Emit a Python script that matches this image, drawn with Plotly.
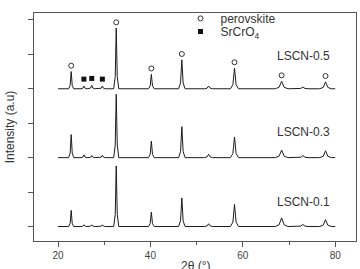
import plotly.graph_objects as go

# Peak positions (2theta, deg) and heights (a.u.)
peak_pos = [22.85, 25.6, 27.3, 29.6, 32.6, 40.2, 46.8, 52.6, 58.2, 68.4, 73.0, 77.9]
peak_hw  = [0.22, 0.25, 0.25, 0.25, 0.22, 0.25, 0.28, 0.35, 0.35, 0.55, 0.45, 0.5]
h_05 = [0.50, 0.08, 0.10, 0.08, 1.76, 0.42, 0.84, 0.08, 0.60, 0.22, 0.05, 0.20]
h_03 = [0.67, 0.08, 0.06, 0.07, 1.84, 0.48, 0.90, 0.10, 0.60, 0.22, 0.06, 0.20]
h_01 = [0.47, 0.05, 0.05, 0.05, 1.76, 0.42, 0.83, 0.08, 0.64, 0.25, 0.06, 0.20]
series_names = ["LSCN-0.5", "LSCN-0.3", "LSCN-0.1"]
offsets = [4, 2, 0]
x_start, x_end = 20.0, 80.0

# marker annotations
perov_pos = [22.85, 32.6, 40.2, 46.8, 58.2, 68.4, 77.9]
srcro4_pos = [25.6, 27.3, 29.6]

def profile(heights, base):
    xs, ys = [x_start], [base]
    for p, w, h in zip(peak_pos, peak_hw, heights):
        xs += [p - 2.5 * w, p - w, p, p + w, p + 2.5 * w]
        ys += [base, base + 0.2 * h, base + h, base + 0.2 * h, base]
    xs.append(x_end); ys.append(base)
    return xs, ys

fig = go.Figure()
for name, hs, off in zip(series_names, [h_05, h_03, h_01], offsets):
    xs, ys = profile(hs, off)
    fig.add_trace(go.Scatter(x=xs, y=ys, mode="lines", line=dict(color="#1c1c1c", width=1),
                             showlegend=False, hoverinfo="skip"))

h05_map = dict(zip(peak_pos, h_05))
fig.add_trace(go.Scatter(x=perov_pos, y=[offsets[0] + h05_map[p] + 0.17 for p in perov_pos],
                         mode="markers", name="perovskite", legend="legend",
                         marker=dict(symbol="circle-open", size=5, color="#333", line=dict(width=1))))
fig.add_trace(go.Scatter(x=srcro4_pos, y=[offsets[0] + h05_map[p] + 0.2 for p in srcro4_pos],
                         mode="markers", name="SrCrO<sub>4</sub>", legend="legend2",
                         marker=dict(symbol="square", size=5, color="#111")))

for name, yv in zip(series_names, [4.94, 2.74, 0.71]):
    fig.add_annotation(x=67.0, y=yv, text=name, showarrow=False, xanchor="left", yanchor="middle",
                       font=dict(size=12, color="#333"))

fig.add_annotation(x=0.5, y=-0.11, xref="paper", yref="paper", text="2θ (°)", showarrow=False,
                   xanchor="center", yanchor="middle", font=dict(size=12, color="#333"))

leg_common = dict(xanchor="left", yanchor="top", bgcolor="rgba(0,0,0,0)",
                  font=dict(size=12, color="#333"), itemsizing="trace")
fig.update_layout(
    width=360, height=269,
    margin=dict(l=34, r=4, t=4, b=28),
    paper_bgcolor="white", plot_bgcolor="white",
    font=dict(family="Liberation Sans, Arial, sans-serif", color="#333"),
    legend=dict(x=0.455, y=1.04, **leg_common),
    legend2=dict(x=0.455, y=0.983, **leg_common),
)
fig.update_xaxes(range=[14.8, 84.5], tickvals=[20, 40, 60, 80], ticks="outside", ticklen=5,
                 tickcolor="#555", linecolor="#555", linewidth=1, mirror=True, showgrid=False,
                 zeroline=False, tickfont=dict(size=10, color="#444"),
                 minor=dict(tickvals=[30, 50, 70], ticks="outside", ticklen=3, tickcolor="#555"))
fig.update_yaxes(range=[-0.42, 6.2], dtick=1, tick0=0, ticks="outside", ticklen=5,
                 tickcolor="#555", linecolor="#555", linewidth=1, mirror=True, showgrid=False,
                 zeroline=False, showticklabels=False,
                 title=dict(text="Intensity (a.u)", font=dict(size=12, color="#333"), standoff=10))

fig.write_html("out.html")
